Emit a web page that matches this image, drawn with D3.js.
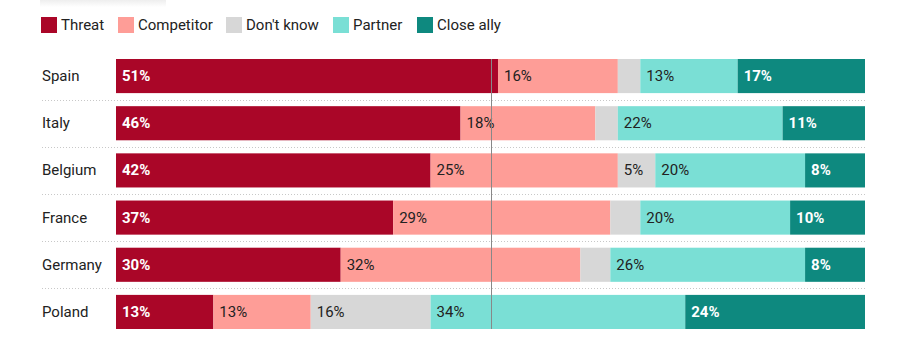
<!DOCTYPE html>
<html>
<head>
<meta charset="utf-8">
<script src="https://cdn.jsdelivr.net/npm/d3@7"></script>
<style>
  body { margin: 0; background: #fff; }
  text { font-family: Roboto, "Noto Sans", sans-serif; }
</style>
</head>
<body>
<div id="figure-container"></div>
<script>
var countries = ['Spain', 'Italy', 'Belgium', 'France', 'Germany', 'Poland'];
var seriesNames = ['Threat', 'Competitor', "Don't know", 'Partner', 'Close ally'];
var threat     = [51, 46, 42, 37, 30, 13];
var competitor = [16, 18, 25, 29, 32, 13];
var dontKnow   = [3, 3, 5, 4, 4, 16];
var partner    = [13, 22, 20, 20, 26, 34];
var closeAlly  = [17, 11, 8, 10, 8, 24];

var colors = ['#aa0628', '#fe9d97', '#d7d7d7', '#7adfd5', '#0e897f'];
var labelColors = ['#fff', '#222', '#222', '#222', '#fff'];
var labelWeights = ['bold', 'normal', 'normal', 'normal', 'bold'];

var fullWidth = 902, fullHeight = 363;
var margin = {top: 59, right: 37, bottom: 34, left: 116};
var width = fullWidth - margin.left - margin.right;
var height = fullHeight - margin.top - margin.bottom;

var rows = countries.map(function(c, i) {
  return {country: c, values: [threat[i], competitor[i], dontKnow[i], partner[i], closeAlly[i]]};
});

var xScale = d3.scaleLinear().domain([0, 100]).range([0, width]);
var yScale = d3.scaleBand().domain(countries).range([0, 270]).paddingInner(0.277).paddingOuter(0);

var svg = d3.select('#figure-container')
  .append('svg')
  .attr('width', fullWidth)
  .attr('height', fullHeight);

// faint leftover header strip at the very top
var grad = svg.append('defs').append('linearGradient')
  .attr('id', 'fade').attr('x1', 0).attr('x2', 0).attr('y1', 0).attr('y2', 1);
grad.append('stop').attr('offset', '0%').attr('stop-color', '#eeeeee');
grad.append('stop').attr('offset', '100%').attr('stop-color', '#ffffff');
svg.append('rect').attr('x', 40).attr('y', 0).attr('width', 126).attr('height', 7).attr('fill', 'url(#fade)');

// legend
var legendX = [41, 118, 226, 333, 417];
var legend = svg.append('g').attr('class', 'legend')
  .selectAll('g')
  .data(seriesNames)
  .enter().append('g')
  .attr('transform', function(d, i) { return 'translate(' + legendX[i] + ',17)'; });
legend.append('rect').attr('width', 16).attr('height', 16).attr('fill', function(d, i) { return colors[i]; });
legend.append('text').attr('x', 20).attr('y', 13).attr('font-size', 15).attr('fill', '#222')
  .text(function(d) { return d; });

var g = svg.append('g').attr('transform', 'translate(' + margin.left + ',' + margin.top + ')');

// dotted separators between rows
countries.slice(1).forEach(function(c) {
  var y = yScale(c) - (yScale.step() - yScale.bandwidth()) / 2;
  g.append('line')
    .attr('x1', 42 - margin.left).attr('x2', width)
    .attr('y1', Math.round(y) + 0.5).attr('y2', Math.round(y) + 0.5)
    .attr('stroke', '#c8c8c8').attr('stroke-dasharray', '1,2');
});

// country labels
g.selectAll('.country')
  .data(countries)
  .enter().append('text')
  .attr('class', 'country')
  .attr('x', 42 - margin.left)
  .attr('y', function(d) { return yScale(d) + yScale.bandwidth() / 2 + 5; })
  .attr('font-size', 15).attr('fill', '#222')
  .text(function(d) { return d; });

// bars
var rowG = g.selectAll('.row')
  .data(rows)
  .enter().append('g')
  .attr('class', 'row')
  .attr('transform', function(d) { return 'translate(0,' + yScale(d.country) + ')'; });

var segs = rowG.selectAll('.seg')
  .data(function(d) {
    var acc = 0;
    return d.values.map(function(v, i) {
      var s = {i: i, v: v, x0: acc};
      acc += v;
      return s;
    });
  })
  .enter().append('g').attr('class', 'seg');

segs.append('rect')
  .attr('x', function(d) { return xScale(d.x0); })
  .attr('width', function(d) { return xScale(d.x0 + d.v) - xScale(d.x0); })
  .attr('height', yScale.bandwidth())
  .attr('fill', function(d) { return colors[d.i]; });

segs.filter(function(d) { return d.v >= 5; })
  .append('text')
  .attr('x', function(d) { return xScale(d.x0) + 6; })
  .attr('y', yScale.bandwidth() / 2 + 5)
  .attr('font-size', 15)
  .attr('font-weight', function(d) { return labelWeights[d.i]; })
  .attr('fill', function(d) { return labelColors[d.i]; })
  .text(function(d) { return d.v + '%'; });

// 50% reference line
g.append('line')
  .attr('x1', Math.round(xScale(50)) + 0.5).attr('x2', Math.round(xScale(50)) + 0.5)
  .attr('y1', 0).attr('y2', 270)
  .attr('stroke', '#888').attr('stroke-width', 1);
</script>
</body>
</html>
